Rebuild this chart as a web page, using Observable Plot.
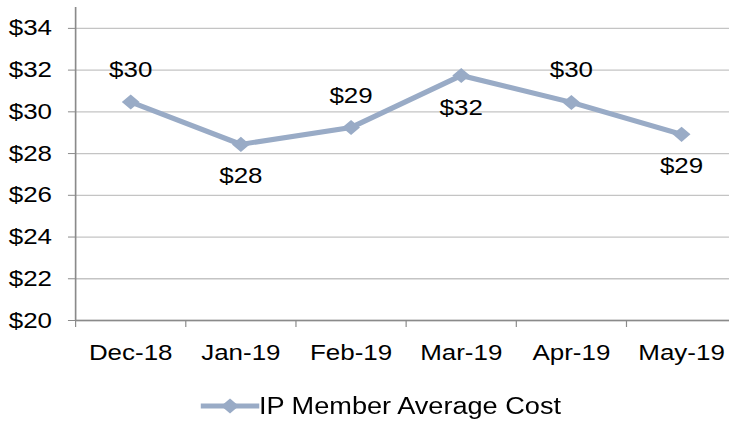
<!DOCTYPE html>
<html>
<head>
<meta charset="utf-8">
<script src="https://cdn.jsdelivr.net/npm/d3@7"></script>
<script src="https://cdn.jsdelivr.net/npm/@observablehq/plot@0.6"></script>
<style>
  html, body { margin: 0; padding: 0; background: white; overflow: hidden; }
  .wrap { width: 618px; transform: scaleX(1.1796); transform-origin: 0 0; font-family: "Liberation Sans", Arial, sans-serif; }
  .legend { height: 42px; display: flex; align-items: center; padding-left: 169.5px; font-size: 23px; color: #000; }
  .legend svg { display: block; margin-right: 0px; }
</style>
</head>
<body>
<div class="wrap" id="wrap"></div>
<script>
const months = ["Dec-18", "Jan-19", "Feb-19", "Mar-19", "Apr-19", "May-19"];
const costs = [30.47, 28.44, 29.25, 31.74, 30.45, 28.92];
const labelSide = ["above", "below", "above", "below", "above", "below"];
const yTicks = [20, 22, 24, 26, 28, 30, 32, 34];
const seriesName = "IP Member Average Cost";

const lineColor = "#99abc6";
const fmt = d3.format("$.0f");
const data = months.map((m, i) => ({month: m, pos: i + 0.5, cost: costs[i], side: labelSide[i]}));

const chart = Plot.plot({
  width: 618,
  height: 385,
  marginLeft: 63.6,
  marginRight: 0,
  marginTop: 7,
  marginBottom: 65,
  x: {domain: [0, months.length], range: [63.6, 624]},
  y: {domain: [20, 35]},
  style: {fontFamily: '"Liberation Sans", Arial, sans-serif', fontSize: "22px", color: "#000", background: "white", overflow: "hidden"},
  marks: [
    Plot.ruleY(yTicks, {stroke: "#c4c4c4", strokeWidth: 1.3}),
    Plot.ruleX([0], {stroke: "#8a8a8a", strokeWidth: 1.4}),
    Plot.ruleY([20], {stroke: "#8a8a8a", strokeWidth: 1.4}),
    Plot.axisY({ticks: yTicks, tickFormat: d => "$" + d, tickSize: 6, tickPadding: 14, stroke: "#8a8a8a", label: null, fontSize: 22}),
    Plot.axisX({ticks: d3.range(months.length + 1), tickFormat: () => "", tickSize: 7, stroke: "#8a8a8a", label: null}),
    Plot.axisX({ticks: data.map(d => d.pos), tickFormat: v => months[Math.floor(v)], tickSize: 0, tickPadding: 24, label: null, fontSize: 22}),
    Plot.line(data, {x: "pos", y: "cost", stroke: lineColor, strokeWidth: 5}),
    Plot.dot(data, {x: "pos", y: "cost", symbol: "diamond2", r: 6.8, fill: lineColor, stroke: "none"}),
    Plot.text(data.filter(d => d.side === "above"), {x: "pos", y: "cost", text: d => fmt(d.cost), dy: -32, fontSize: 22, fill: "#000"}),
    Plot.text(data.filter(d => d.side === "below"), {x: "pos", y: "cost", text: d => fmt(d.cost), dy: 32, fontSize: 22, fill: "#000"})
  ]
});

const wrap = document.getElementById("wrap");
wrap.appendChild(chart);

const legend = document.createElement("div");
legend.className = "legend";
legend.innerHTML =
  `<svg width="50" height="20" viewBox="0 0 50 20">
     <line x1="0" x2="50" y1="10" y2="10" stroke="${lineColor}" stroke-width="5"></line>
     <polygon points="25,2.5 32.5,10 25,17.5 17.5,10" fill="${lineColor}"></polygon>
   </svg><span>${seriesName}</span>`;
wrap.appendChild(legend);
</script>
</body>
</html>
